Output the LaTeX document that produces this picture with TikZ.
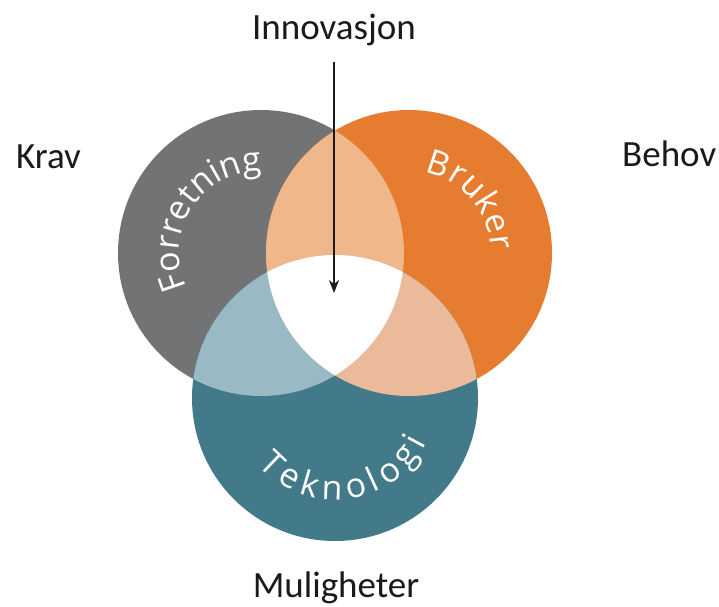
\documentclass[tikz,border=0pt]{standalone}
\usepackage{fontspec}
\setmainfont{Carlito}
\newfontfamily\arclabelfont{Open Sans}
\usetikzlibrary{decorations.text,arrows.meta}

\definecolor{setF}{HTML}{727375}
\definecolor{setB}{HTML}{E57C30}
\definecolor{setT}{HTML}{437A89}
\definecolor{setFB}{HTML}{F0B78A}
\definecolor{setFT}{HTML}{99BAC4}
\definecolor{setBT}{HTML}{EBBA9B}
\definecolor{ink}{HTML}{1A1A1A}

\tikzset{
  outer label/.style={inner sep=0pt, text=ink, font=\fontsize{37}{42}\selectfont},
  arc label/.style={decorate, decoration={text along path, text color=white,
      text align=fit to path,
      text={|\arclabelfont\fontsize{34}{36}\selectfont|#1}}},
  pointer/.style={draw=ink, line width=1.8pt, -{Stealth[length=13pt,width=10pt]}}
}

\begin{document}
\begin{tikzpicture}[x=1pt,y=1pt]
\useasboundingbox (0,0) rectangle (719,606);

% circle centres
\coordinate (cF) at (261,353);
\coordinate (cB) at (409,353);
\coordinate (cT) at (335,208);

% base discs
\fill[setF] (cF) circle[radius=143pt];
\fill[setB] (cB) circle[radius=143pt];
\fill[setT] (cT) circle[radius=143pt];

% pairwise overlaps
\begin{scope}
  \clip (cF) circle[radius=143pt];
  \fill[setFB] (cB) circle[radius=143pt];
  \fill[setFT] (cT) circle[radius=143pt];
\end{scope}
\begin{scope}
  \clip (cB) circle[radius=143pt];
  \fill[setBT] (cT) circle[radius=143pt];
  % triple overlap
  \clip (cF) circle[radius=143pt];
  \fill[white] (cT) circle[radius=143pt];
\end{scope}

% curved labels inside the discs
\path[arc label={Forretning}] (cF) ++(205:82pt) arc[start angle=205, end angle=90, radius=82pt];
\path[arc label={Bruker}] (cB) ++(79:82pt) arc[start angle=79, end angle=2, radius=82pt];
\path[arc label={Teknologi}] (cT) ++(221:102pt) arc[start angle=221, end angle=334, radius=102pt];

% outer labels
\node[outer label, anchor=base] (innov) at (334,566) {Innovasjon};
\node[outer label, anchor=base west] (krav) at (16,437) {Krav};
\node[outer label, anchor=base west] (behov) at (622,439) {Behov};
\node[outer label, anchor=base] (mulig) at (336,9) {Muligheter};

% arrow into the common centre
\coordinate (arrowtop) at (334,544);
\coordinate (arrowtip) at (334,313);
\draw[pointer] (arrowtop) -- (arrowtip);
\end{tikzpicture}
\end{document}
